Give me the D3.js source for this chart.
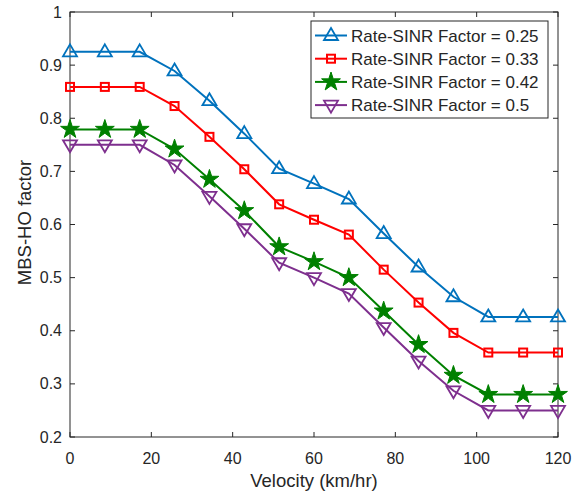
<!DOCTYPE html>
<html>
<head>
<meta charset="utf-8">
<script src="https://cdn.jsdelivr.net/npm/d3@7"></script>
<style>
  body { margin: 0; background: #fff; }
  svg text { font-family: "Liberation Sans", Arial, sans-serif; fill: #262626; }
</style>
</head>
<body>
<div id="chart"></div>
<script>
// DATA
const velocity = [0, 8.57, 17.14, 25.71, 34.29, 42.86, 51.43, 60, 68.57, 77.14, 85.71, 94.29, 102.86, 111.43, 120];
const factor025 = [0.925, 0.925, 0.925, 0.889, 0.833, 0.771, 0.705, 0.677, 0.648, 0.583, 0.52, 0.464, 0.426, 0.426, 0.426];
const factor033 = [0.859, 0.859, 0.859, 0.823, 0.765, 0.704, 0.638, 0.609, 0.581, 0.515, 0.453, 0.396, 0.359, 0.359, 0.359];
const factor042 = [0.779, 0.779, 0.779, 0.742, 0.685, 0.626, 0.558, 0.53, 0.50, 0.437, 0.374, 0.316, 0.28, 0.28, 0.28];
const factor05 = [0.75, 0.75, 0.75, 0.712, 0.653, 0.592, 0.528, 0.50, 0.47, 0.406, 0.343, 0.287, 0.25, 0.25, 0.25];
const xTicks = [0, 20, 40, 60, 80, 100, 120];
const yTicks = [0.2, 0.3, 0.4, 0.5, 0.6, 0.7, 0.8, 0.9, 1];

const series = [
    { name: 'Rate-SINR Factor = 0.25', values: factor025, color: '#0072BD', marker: 'triUp' },
    { name: 'Rate-SINR Factor = 0.33', values: factor033, color: '#FF0000', marker: 'square' },
    { name: 'Rate-SINR Factor = 0.42', values: factor042, color: '#008000', marker: 'star' },
    { name: 'Rate-SINR Factor = 0.5', values: factor05, color: '#7E2F8E', marker: 'triDown' }
];

const W = 587, H = 493;
const margin = { top: 12, right: 29, bottom: 56, left: 70 };
const width = W - margin.left - margin.right;
const height = H - margin.top - margin.bottom;

const svg = d3.select('#chart').append('svg')
    .attr('width', W)
    .attr('height', H);

const g = svg.append('g')
    .attr('transform', `translate(${margin.left},${margin.top})`);

const x = d3.scaleLinear().domain([0, 120]).range([0, width]);
const y = d3.scaleLinear().domain([0.2, 1]).range([height, 0]);

const axisColor = '#262626';
const tickLen = 5;

// box + inward ticks
g.append('rect')
    .attr('width', width).attr('height', height)
    .attr('fill', 'none').attr('stroke', axisColor).attr('stroke-width', 1);

xTicks.forEach(t => {
    g.append('line').attr('x1', x(t)).attr('x2', x(t)).attr('y1', height).attr('y2', height - tickLen).attr('stroke', axisColor);
    g.append('line').attr('x1', x(t)).attr('x2', x(t)).attr('y1', 0).attr('y2', tickLen).attr('stroke', axisColor);
    g.append('text').attr('x', x(t)).attr('y', height + 26.5)
        .attr('text-anchor', 'middle').style('font-size', '16px').text(t);
});

yTicks.forEach(t => {
    g.append('line').attr('x1', 0).attr('x2', tickLen).attr('y1', y(t)).attr('y2', y(t)).attr('stroke', axisColor);
    g.append('line').attr('x1', width).attr('x2', width - tickLen).attr('y1', y(t)).attr('y2', y(t)).attr('stroke', axisColor);
    g.append('text').attr('x', -8).attr('y', y(t)).attr('dy', '0.35em')
        .attr('text-anchor', 'end').style('font-size', '16px').text(t);
});

// axis labels
svg.append('text')
    .attr('x', margin.left + width / 2).attr('y', H - 6)
    .attr('text-anchor', 'middle').style('font-size', '18.5px')
    .text('Velocity (km/hr)');

svg.append('text')
    .attr('transform', `translate(31,${margin.top + height / 2 - 2}) rotate(-90)`)
    .attr('text-anchor', 'middle').style('font-size', '18.5px')
    .text('MBS-HO factor');

// markers
function drawMarker(sel, type, color) {
    if (type === 'triUp') {
        sel.append('path').attr('d', 'M0,-7.5L7,4.5L-7,4.5Z')
            .attr('fill', 'none').attr('stroke', color).attr('stroke-width', 1.8);
    } else if (type === 'triDown') {
        sel.append('path').attr('d', 'M0,7.5L7,-4.5L-7,-4.5Z')
            .attr('fill', 'none').attr('stroke', color).attr('stroke-width', 1.8);
    } else if (type === 'square') {
        sel.append('rect').attr('x', -4).attr('y', -4).attr('width', 8).attr('height', 8)
            .attr('fill', 'none').attr('stroke', color).attr('stroke-width', 2);
    } else if (type === 'star') {
        sel.append('path').attr('d', d3.symbol(d3.symbolStar, 110)())
            .attr('fill', color).attr('stroke', color).attr('stroke-width', 1);
    }
}

const line = d3.line()
    .x((d, i) => x(velocity[i]))
    .y(d => y(d));

series.forEach(s => {
    g.append('path')
        .attr('d', line(s.values))
        .attr('fill', 'none')
        .attr('stroke', s.color)
        .attr('stroke-width', 2);

    s.values.forEach((v, i) => {
        const m = g.append('g').attr('transform', `translate(${x(velocity[i])},${y(v)})`);
        drawMarker(m, s.marker, s.color);
    });
});

// legend
const legend = svg.append('g').attr('transform', 'translate(311,21)');
legend.append('rect')
    .attr('width', 237).attr('height', 97)
    .attr('fill', '#fff').attr('stroke', axisColor).attr('stroke-width', 1);

series.forEach((s, i) => {
    const row = legend.append('g').attr('transform', `translate(0,${14.5 + i * 23.2})`);
    row.append('line').attr('x1', 4).attr('x2', 36).attr('y1', 0).attr('y2', 0)
        .attr('stroke', s.color).attr('stroke-width', 2);
    const m = row.append('g').attr('transform', 'translate(20,0)');
    drawMarker(m, s.marker, s.color);
    row.append('text').attr('x', 40).attr('y', 0).attr('dy', '0.36em')
        .style('font-size', '17px').text(s.name);
});
</script>
</body>
</html>
